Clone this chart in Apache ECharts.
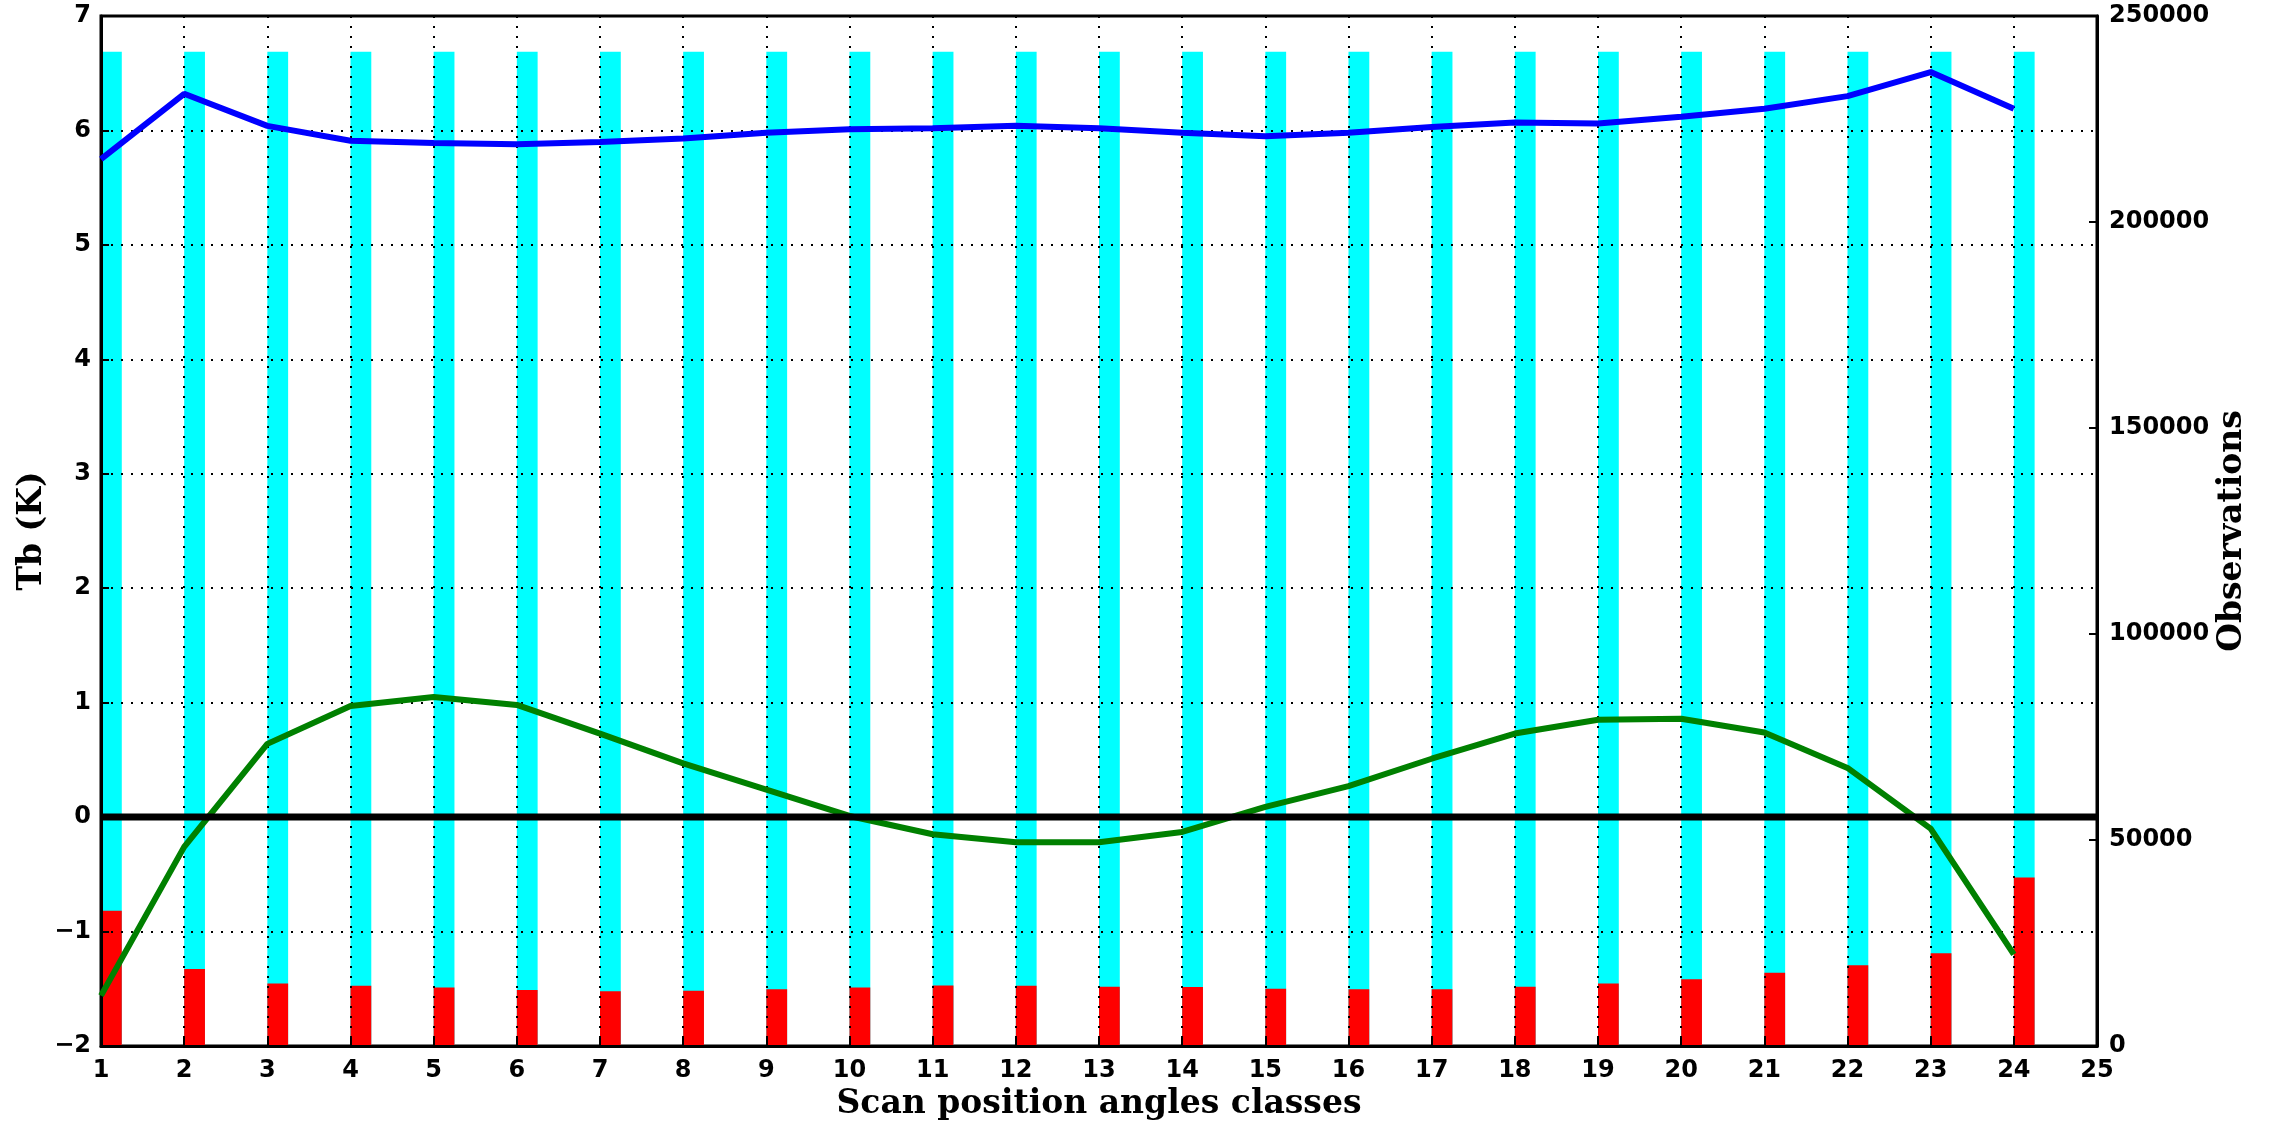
<!DOCTYPE html>
<html>
<head>
<meta charset="utf-8">
<script src="https://cdn.jsdelivr.net/npm/echarts@6/dist/echarts.min.js"></script>
<style>
html,body{margin:0;padding:0;background:#fff;}
#chart{width:2277px;height:1124px;}
</style>
</head>
<body>
<div id="chart"></div>
<script>
// ---- data ----
const scanPositions = [1,2,3,4,5,6,7,8,9,10,11,12,13,14,15,16,17,18,19,20,21,22,23,24];
const obsTotal = [241300,241300,241300,241300,241300,241300,241300,241300,241300,241300,241300,241300,
                  241300,241300,241300,241300,241300,241300,241300,241300,241300,241300,241300,241300];
const obsUsed = [32800,18700,15200,14600,14200,13600,13300,13400,13800,14200,14700,14600,
                 14400,14300,13900,13800,13800,14400,15200,16200,17800,19600,22500,40900];
const stdDev = [5.75,6.32,6.04,5.91,5.89,5.88,5.90,5.93,5.98,6.01,6.02,6.04,
                6.02,5.98,5.95,5.98,6.03,6.07,6.06,6.12,6.19,6.30,6.51,6.19];
const meanBias = [-1.56,-0.26,0.64,0.97,1.05,0.98,0.73,0.47,0.24,0.01,-0.15,-0.22,
                  -0.22,-0.13,0.09,0.27,0.51,0.73,0.85,0.86,0.74,0.43,-0.10,-1.20];
const xTicks = {min:1, max:25, interval:1};
const yLeftTicks = {min:-2, max:7, interval:1};
const yRightTicks = {min:0, max:250000, interval:50000};

const BAR_W = 0.25;
function pairs(xs, ys){ return xs.map((x,i)=>[x, ys[i]]); }
function barRenderer(color){
  return function(params, api){
    const x = api.value(0), v = api.value(1);
    const p0 = api.coord([x, v]);
    const p1 = api.coord([x + BAR_W, 0]);
    return {type:'rect', shape:{x:p0[0], y:p0[1], width:p1[0]-p0[0], height:p1[1]-p0[1]},
            style:{fill:color}};
  };
}
const tickFont = {color:'#000', fontWeight:'bold', fontSize:24, fontFamily:'DejaVu Sans'};
const nameFont = {color:'#000', fontWeight:'bold', fontSize:33, fontFamily:'DejaVu Serif'};
const dotted = {show:true, lineStyle:{color:'#000', type:[2,8], width:2}};

const chart = echarts.init(document.getElementById('chart'), null, {renderer:'canvas'});
chart.setOption({
  animation:false,
  backgroundColor:'#fff',
  grid:{left:101, right:180, top:16, bottom:78, containLabel:false, outerBoundsMode:'none',
        show:true, borderColor:'#000', borderWidth:3, backgroundColor:'transparent', z:0},
  xAxis:{type:'value', min:xTicks.min, max:xTicks.max, interval:xTicks.interval, z:2,
    name:'Scan position angles classes', nameLocation:'middle', nameGap:42, nameMoveOverlap:false, nameTextStyle:nameFont,
    axisLine:{show:true, onZero:false, lineStyle:{color:'#000', width:3}},
    axisTick:{show:true, inside:true, length:8, lineStyle:{color:'#000', width:2}},
    axisLabel:Object.assign({margin:13}, tickFont),
    splitLine:dotted},
  yAxis:[
    {type:'value', min:yLeftTicks.min, max:yLeftTicks.max, interval:yLeftTicks.interval, z:2,
     name:'Tb (K)', nameLocation:'middle', nameGap:52, nameMoveOverlap:false, nameTextStyle:nameFont,
     axisLine:{show:true, onZero:false, lineStyle:{color:'#000', width:3}},
     axisTick:{show:true, inside:true, length:8, lineStyle:{color:'#000', width:2}},
     axisLabel:Object.assign({margin:10, formatter:v=>String(v).replace('-','\u2212')}, tickFont),
     splitLine:dotted},
    {type:'value', position:'right', min:yRightTicks.min, max:yRightTicks.max, interval:yRightTicks.interval, z:2,
     name:'Observations', nameLocation:'middle', nameGap:119, nameMoveOverlap:false, nameTextStyle:nameFont,
     axisLine:{show:true, onZero:false, lineStyle:{color:'#000', width:3}},
     axisTick:{show:true, inside:true, length:8, lineStyle:{color:'#000', width:2}},
     axisLabel:Object.assign({margin:12, formatter:v=>String(v)}, tickFont),
     splitLine:{show:false}}
  ],
  series:[
    {type:'custom', name:'total', yAxisIndex:1, z:1, renderItem:barRenderer('#00ffff'),
     encode:{x:0,y:1}, data:pairs(scanPositions, obsTotal)},
    {type:'custom', name:'used', yAxisIndex:1, z:1, renderItem:barRenderer('#ff0000'),
     encode:{x:0,y:1}, data:pairs(scanPositions, obsUsed)},
    {type:'line', name:'std', yAxisIndex:0, z:3, symbol:'none', lineStyle:{color:'#0000ff', width:6},
     data:pairs(scanPositions, stdDev)},
    {type:'line', name:'bias', yAxisIndex:0, z:3, symbol:'none', lineStyle:{color:'#008000', width:6},
     data:pairs(scanPositions, meanBias)},
    {type:'line', name:'zero', yAxisIndex:0, z:4, symbol:'none', lineStyle:{color:'#000', width:7},
     data:[[xTicks.min,0],[xTicks.max,0]]}
  ]
});
</script>
</body>
</html>
